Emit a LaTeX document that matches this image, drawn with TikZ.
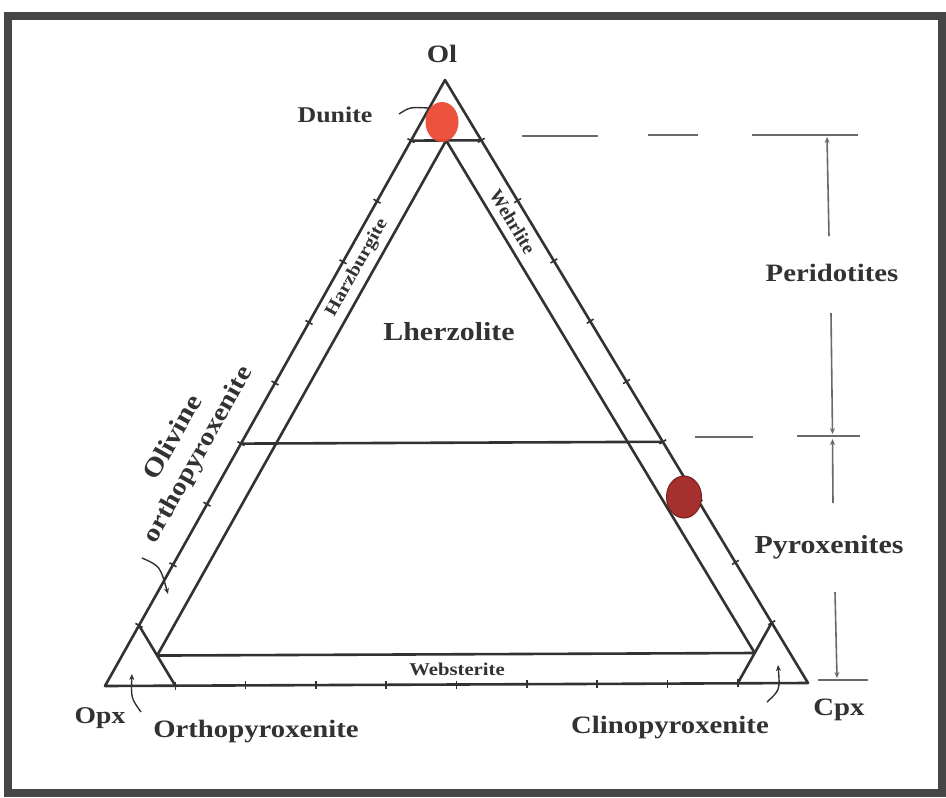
\documentclass[tikz,border=0pt]{standalone}
\usepackage{fontspec}
\setmainfont{Liberation Serif}[FakeStretch=1.15]
\newfontfamily\plainserif{Liberation Serif}
\usetikzlibrary{arrows.meta}
\definecolor{ink}{RGB}{50,50,50}
\definecolor{frameclr}{RGB}{70,70,70}
\definecolor{dunred}{RGB}{236,74,52}
\definecolor{pyxred}{RGB}{165,48,45}
\definecolor{guideclr}{RGB}{105,105,105}
\newcommand{\fs}[1]{\bfseries\fontsize{#1}{#1}\selectfont}
\begin{document}
\begin{tikzpicture}[x=1pt,y=-1pt,
  tri/.style={draw=ink, line width=2.6pt, line join=round, line cap=round},
  tickmark/.style={draw=ink, line width=1.6pt},
  guideline/.style={draw=guideclr, line width=1.6pt},
  lab/.style={text=ink, font=\fs{25}, inner sep=0pt},
  smalllab/.style={text=ink, font=\fs{18}, inner sep=0pt},
  lead/.style={draw=ink, line width=1.4pt},
  tip/.style={-{Stealth[length=6pt,width=5pt]}}
  ]
\fill[white] (0,0) rectangle (946,798);
\useasboundingbox (0,0) rectangle (946,798);
\draw[frameclr, line width=8pt] (8,16) rectangle (942,793);

% vertices
\coordinate (A) at (445,80);
\coordinate (B) at (105,686);
\coordinate (C) at (808,683);
% key points
\coordinate (Dl) at (barycentric cs:A=0.9,B=0.1);
\coordinate (Dr) at (barycentric cs:A=0.9,C=0.1);
\coordinate (Ia) at (barycentric cs:A=0.9,B=0.05,C=0.05);
\coordinate (Ib) at (barycentric cs:A=0.05,B=0.9,C=0.05);
\coordinate (Ic) at (barycentric cs:A=0.05,B=0.05,C=0.9);
\coordinate (Pl) at (barycentric cs:A=0.4,B=0.6);
\coordinate (Pr) at (barycentric cs:A=0.4,C=0.6);
\coordinate (Oa) at (barycentric cs:A=0.1,B=0.9);
\coordinate (Ob) at (barycentric cs:B=0.9,C=0.1);
\coordinate (Ca) at (barycentric cs:A=0.1,C=0.9);
\coordinate (Cb) at (barycentric cs:B=0.1,C=0.9);

% triangle lines
\draw[tri] (A) -- (B) -- (C) -- cycle;
\draw[tri] (Dl) -- (Dr);
\draw[tri] (Ib) -- (Ia) -- (Ic);
\draw[tri] (Ib) -- (Ic);
\draw[tri] (Pl) -- (Pr);
\draw[tri] (Oa) -- (Ob);
\draw[tri] (Ca) -- (Cb);

% ticks every 10%
\foreach \i in {1,...,9}{
  \pgfmathsetmacro\ta{\i/10}
  \pgfmathsetmacro\tb{1-\i/10}
  \coordinate (tl) at (barycentric cs:A=\ta,B=\tb);
  \coordinate (tr) at (barycentric cs:A=\ta,C=\tb);
  \coordinate (tb) at (barycentric cs:B=\ta,C=\tb);
  \draw[tickmark] ([shift={(-3.5,-2)}]tl) -- ([shift={(3.5,2)}]tl);
  \draw[tickmark] ([shift={(-3.4,2.1)}]tr) -- ([shift={(3.4,-2.1)}]tr);
  \draw[tickmark] ([shift={(0,-4)}]tb) -- ([shift={(0,4)}]tb);
}

% red circles
\fill[dunred, opacity=0.95] (442,122) ellipse [x radius=16.5pt, y radius=20pt];
\filldraw[fill=pyxred, draw=pyxred!70!black, line width=1pt] (684,497) ellipse [x radius=17.5pt, y radius=21pt];

% labels
\node[lab] (ol) at (442,54) {Ol};
\node[lab, font=\fs{22.5}] (dun) at (335,115) {Dunite};
\node[lab] (per) at (832,273) {Peridotites};
\node[lab, font=\fs{26}] (pyx) at (829,547) {Pyroxenites};
\node[lab, font=\fs{26}] (lhz) at (449,332) {Lherzolite};
\node[lab, font=\fs{24}] (opx) at (100,718) {Opx};
\node[lab] (opxn) at (256,732) {Orthopyroxenite};
\node[lab] (cpxn) at (670,728) {Clinopyroxenite};
\node[lab] (cpx) at (839,710) {Cpx};
\node[lab, font=\fs{26}, rotate=60.7] (oli) at (172,437) {Olivine};
\node[lab, rotate=60.7] (oop) at (199,455) {orthopyroxenite};
\node[smalllab, rotate=60.7] (hz) at (barycentric cs:A=0.69,B=0.285,C=0.025) {Harzburgite};
\node[smalllab, font=\plainserif\fs{19}, rotate=-58.9] (wh) at (barycentric cs:A=0.765,B=0.025,C=0.21) {Wehrlite};
\node[smalllab] (web) at (457,669) {Websterite};

% leaders
\draw[lead] (399,114) .. controls (410,107) .. (428,108);
\draw[lead, tip] (141,712) .. controls (131,698) .. (132,674);
\draw[lead, tip] (767,702) .. controls (780,690) .. (778,665);
\draw[lead, tip] (142,558) .. controls (160,566) .. (168,594);

% right-hand guides
\draw[guideline] (522,136) -- (598,136);
\draw[guideline] (648,135) -- (698,135);
\draw[guideline] (752,135) -- (858,135);
\draw[guideline] (695,437) -- (753,437);
\draw[guideline] (797,436) -- (860,436);
\draw[guideline, tip] (829,236) -- (827,137);
\draw[guideline, tip] (831,313) -- (832.5,434);
\draw[guideline, tip] (833,503) -- (832.5,439);
\draw[guideline, tip] (835,592) -- (837,678);
\draw[guideline] (818,680) -- (868,680);
\end{tikzpicture}
\end{document}
